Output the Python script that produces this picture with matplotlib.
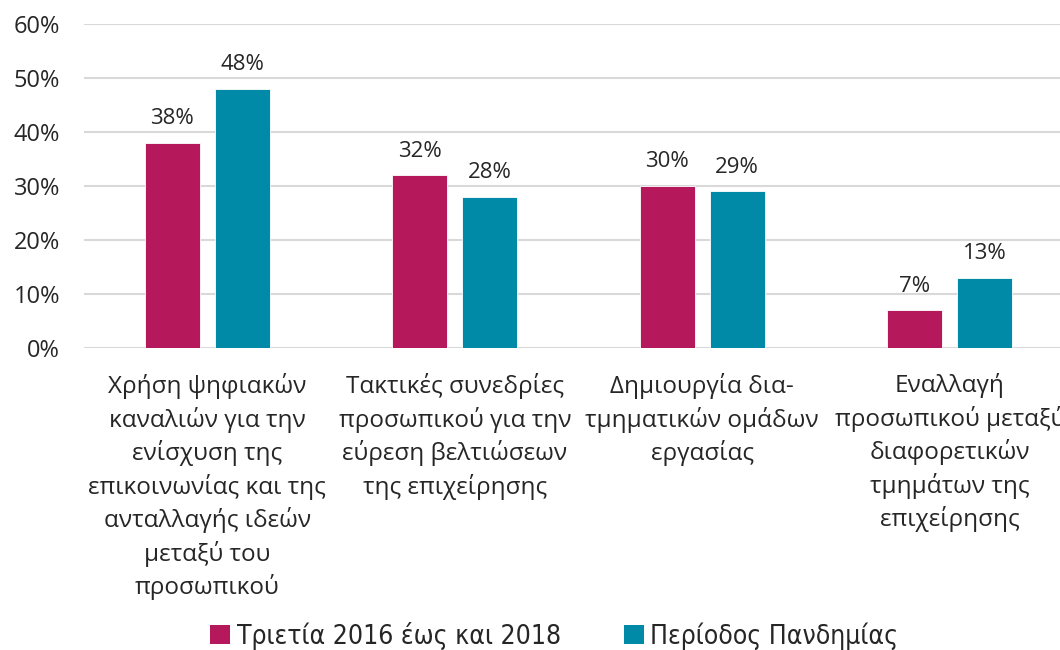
import numpy as np
import matplotlib.pyplot as plt
from matplotlib.ticker import PercentFormatter
from matplotlib.patches import Patch

plt.rcParams['font.family'] = ['Open Sans', 'DejaVu Sans']

# data
categories = ["Χρήση ψηφιακών\nκαναλιών για την\nενίσχυση της\nεπικοινωνίας και της\nανταλλαγής ιδεών\nμεταξύ του\nπροσωπικού",
              "Τακτικές συνεδρίες\nπροσωπικού για την\nεύρεση βελτιώσεων\nτης επιχείρησης",
              "Δημιουργία δια-\nτμηματικών ομάδων\nεργασίας",
              "Εναλλαγή\nπροσωπικού μεταξύ\nδιαφορετικών\nτμημάτων της\nεπιχείρησης"]
series_names = ["Τριετία 2016 έως και 2018", "Περίοδος Πανδημίας"]
vals_2016_2018 = [38, 32, 30, 7]
vals_pandemic = [48, 28, 29, 13]
colors = ['#B5195B', '#008AA8']

fig = plt.figure(figsize=(10.6, 6.5), dpi=100)
# plot area runs a bit past the right edge of the figure
ax = fig.add_axes([0.0788, 0.4646, 0.934, 0.4985])

x = np.arange(len(categories))
w = 0.222
off = 0.141
for vals, dx, c in [(vals_2016_2018, -off, colors[0]), (vals_pandemic, off, colors[1])]:
    v = np.array(vals) / 100.0
    bars = ax.bar(x + dx, v, width=w, color=c, edgecolor='white', linewidth=0.6, zorder=3)
    for b, val in zip(bars, vals):
        ax.text(b.get_x() + b.get_width() / 2, b.get_height() + 0.025, '%d%%' % val,
                ha='center', va='bottom', fontsize=16, color='#262626')

ax.set_xlim(-0.5, len(categories) - 0.5)
ax.set_ylim(0, 0.6)
ax.set_yticks(np.arange(0, 0.61, 0.1))
ax.yaxis.set_major_formatter(PercentFormatter(1.0, decimals=0))
ax.grid(axis='y', color='#D9D9D9', linewidth=1.5, zorder=0)
ax.set_axisbelow(True)
for s in ax.spines.values():
    s.set_visible(False)
ax.tick_params(axis='y', length=0, pad=17, labelsize=17, labelcolor='#262626')
ax.set_xticks(x)
ax.set_xticklabels(categories, fontsize=17.5, color='#262626', linespacing=1.375)
ax.tick_params(axis='x', length=0, pad=18)

handles = [Patch(facecolor=c, edgecolor='none') for c in colors]
leg = fig.legend(handles, series_names, loc='center', bbox_to_anchor=(0.523, 0.022),
                 ncol=2, frameon=False, handlelength=0.75, handleheight=0.75,
                 handletextpad=0.25, columnspacing=2.4,
                 prop={'family': 'DejaVu Sans', 'stretch': 'condensed', 'size': 19})
for t in leg.get_texts():
    t.set_color('#262626')

fig.savefig('out.png', dpi=100)
